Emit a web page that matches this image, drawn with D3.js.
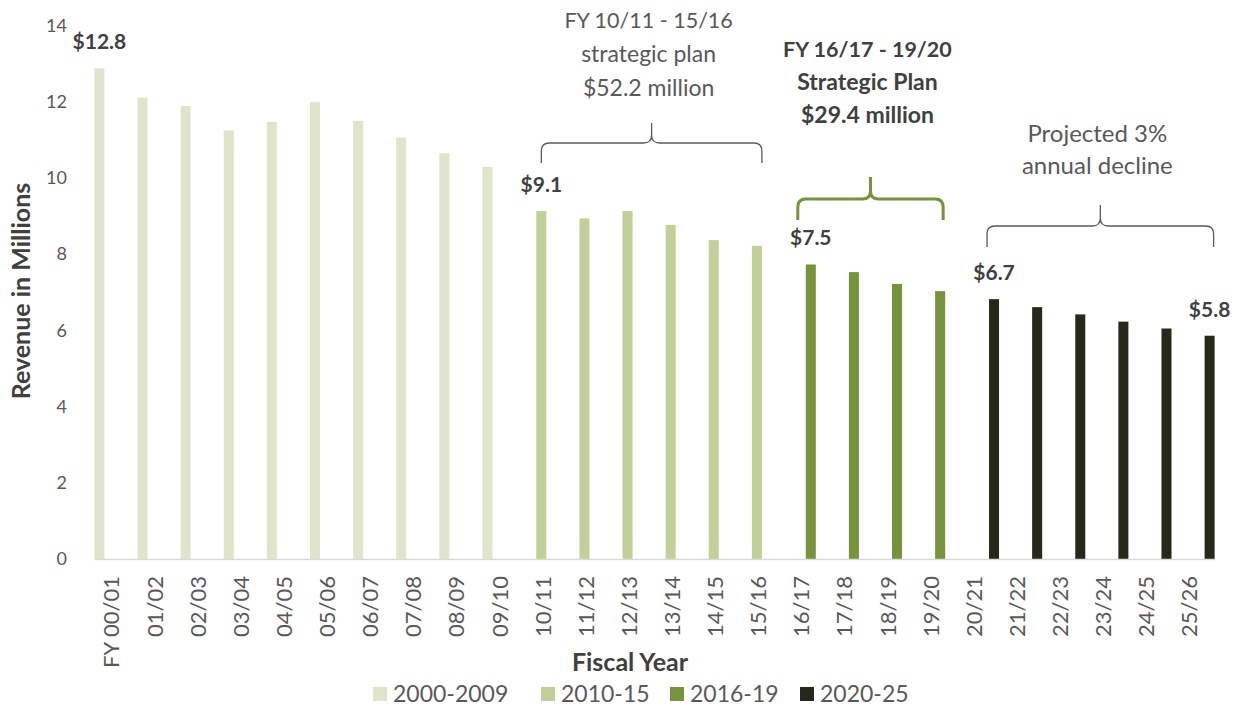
<!DOCTYPE html>
<html>
<head>
<meta charset="utf-8">
<script src="https://cdn.jsdelivr.net/npm/d3@7"></script>
<style>
  html, body { margin: 0; padding: 0; background: #fff; }
  svg { display: block; font-family: Lato, "Open Sans", sans-serif; }
</style>
</head>
<body>
<svg id="chart" width="1242" height="708"></svg>
<script>
// ---------------- DATA ----------------
const categories = ["FY 00/01","01/02","02/03","03/04","04/05","05/06","06/07","07/08","08/09","09/10",
  "10/11","11/12","12/13","13/14","14/15","15/16",
  "16/17","17/18","18/19","19/20",
  "20/21","21/22","22/23","23/24","24/25","25/26"];
const seriesNames = ["2000-2009","2010-15","2016-19","2020-25"];
const seriesColors = ["#dfe5ca","#c3cf99","#77933c","#26281a"];
const values2000s = [12.88,12.11,11.89,11.25,11.47,11.99,11.50,11.06,10.65,10.29];
const values2010s = [9.13,8.94,9.13,8.77,8.37,8.22];
const values2016s = [7.73,7.53,7.22,7.03];
const values2020s = [6.82,6.61,6.42,6.23,6.05,5.86];
const yTicks = [0,2,4,6,8,10,12,14];
const valueLabelCats = ["FY 00/01","10/11","16/17","20/21","25/26"];
const valueLabelTexts = ["$12.8","$9.1","$7.5","$6.7","$5.8"];
const braceFrom = ["10/11","16/17","20/21"];
const braceTo = ["15/16","19/20","25/26"];
const braceLines = [
  ["FY 10/11 - 15/16","strategic plan","$52.2 million"],
  ["FY 16/17 - 19/20","Strategic Plan","$29.4 million"],
  ["Projected 3%","annual decline"]
];
const axisTitleX = "Fiscal Year";
const axisTitleY = "Revenue in Millions";

// ---------------- BUILD TABLE ----------------
const seriesValues = [values2000s, values2010s, values2016s, values2020s];
const rows = [];
let ci = 0;
seriesValues.forEach((arr, si) => {
  arr.forEach(v => { rows.push({cat: categories[ci], series: seriesNames[si], value: v}); ci++; });
});

// ---------------- LAYOUT ----------------
const svg = d3.select("#chart");
const x = d3.scaleBand().domain(categories).range([94, 1215]).padding(0);
const xs = d3.scaleBand().domain(seriesNames).range([0, x.bandwidth()]).padding(0);
const y = d3.scaleLinear().domain([0, 14]).range([559, 25.6]);
const color = d3.scaleOrdinal().domain(seriesNames).range(seriesColors);
const barW = xs.bandwidth() * 0.93;
const barCenter = d => x(d.cat) + xs(d.series) + xs.bandwidth() / 2;
const rowByCat = new Map(rows.map(r => [r.cat, r]));

// bars
svg.append("g").selectAll("rect").data(rows).join("rect")
  .attr("x", d => barCenter(d) - barW / 2)
  .attr("y", d => y(d.value))
  .attr("width", barW)
  .attr("height", d => y(0) - y(d.value))
  .attr("fill", d => color(d.series));

// x axis
const xAxis = svg.append("g").attr("transform", `translate(0,${y(0)})`)
  .call(d3.axisBottom(x).tickSize(0).tickPadding(0));
xAxis.select(".domain").attr("stroke", "#d9d9d9").attr("stroke-width", 1.5);
xAxis.selectAll(".tick text")
  .attr("transform", "rotate(-90)")
  .attr("text-anchor", "end")
  .attr("x", -17)
  .attr("y", 0)
  .attr("dy", "0.36em")
  .attr("dx", 0)
  .attr("fill", "#595959")
  .style("font-family", "Lato, sans-serif")
  .style("font-size", "22px");
xAxis.selectAll(".tick").attr("transform", d => `translate(${x(d) + x.bandwidth()/2 - 4},0)`);

// y axis
const yAxis = svg.append("g").attr("transform", "translate(67,0)")
  .call(d3.axisLeft(y).tickValues(yTicks).tickSize(0).tickPadding(0).tickFormat(d3.format("d")));
yAxis.select(".domain").remove();
yAxis.selectAll(".tick text")
  .attr("fill", "#595959")
  .style("font-family", "Lato, sans-serif")
  .style("font-size", "18px");

// axis titles
svg.append("text")
  .attr("transform", `translate(30,291) rotate(-90)`)
  .attr("text-anchor", "middle")
  .attr("fill", "#404040")
  .style("font-weight", "bold")
  .style("font-size", "25px")
  .text(axisTitleY);
svg.append("text")
  .attr("x", 630).attr("y", 671)
  .attr("text-anchor", "middle")
  .attr("fill", "#404040")
  .style("font-weight", "bold")
  .style("font-size", "25px")
  .text(axisTitleX);

// value labels
valueLabelCats.forEach((c, i) => {
  const r = rowByCat.get(c);
  svg.append("text")
    .attr("x", barCenter(r))
    .attr("y", y(r.value) - 19)
    .attr("text-anchor", "middle")
    .attr("fill", "#404040")
    .style("font-weight", "bold")
    .style("font-size", "21px")
    .text(valueLabelTexts[i]);
});

// braces
const braceGeom = [
  {dl: 0, dr: 5, bottom: 163, mid: 143, tip: 123, stroke: "#595959", sw: 1.3, textY: 28, lh: 34, bold: false, fill: "#595959", fs: 23},
  {dl: -13, dr: 3, bottom: 220, mid: 199, tip: 177, stroke: "#77933c", sw: 3, textY: 57, lh: 33, bold: true, fill: "#404040", fs: 23},
  {dl: -7, dr: 4, bottom: 247, mid: 226, tip: 205, stroke: "#595959", sw: 1.3, textY: 142, lh: 32, bold: false, fill: "#595959", fs: 24}
];
braceFrom.forEach((f, i) => {
  const g = braceGeom[i];
  const L = barCenter(rowByCat.get(f)) + g.dl;
  const R = barCenter(rowByCat.get(braceTo[i])) + g.dr;
  const T = (L + R) / 2;
  const r = 8;
  const p = d3.path();
  p.moveTo(L, g.bottom);
  p.lineTo(L, g.mid + r);
  p.quadraticCurveTo(L, g.mid, L + r, g.mid);
  p.lineTo(T - r, g.mid);
  p.quadraticCurveTo(T, g.mid, T, g.mid - r);
  p.lineTo(T, g.tip);
  p.moveTo(T, g.mid - r);
  p.quadraticCurveTo(T, g.mid, T + r, g.mid);
  p.lineTo(R - r, g.mid);
  p.quadraticCurveTo(R, g.mid, R, g.mid + r);
  p.lineTo(R, g.bottom);
  svg.append("path").attr("d", p.toString())
    .attr("fill", "none").attr("stroke", g.stroke).attr("stroke-width", g.sw);
  braceLines[i].forEach((line, li) => {
    svg.append("text")
      .attr("x", T - 3)
      .attr("y", g.textY + li * g.lh)
      .attr("text-anchor", "middle")
      .attr("fill", g.fill)
      .style("font-weight", g.bold ? "bold" : "normal")
      .style("font-size", (li === 0 && i < 2 ? g.fs - 1.5 : g.fs) + "px")
      .text(line);
  });
});

// legend
const legendX = [373, 541, 670, 800];
const legend = svg.append("g");
seriesNames.forEach((s, i) => {
  legend.append("rect").attr("x", legendX[i]).attr("y", 687).attr("width", 14).attr("height", 14)
    .attr("fill", color(s));
  legend.append("text").attr("x", legendX[i] + 20).attr("y", 702)
    .attr("fill", "#595959").style("font-size", "23px").text(s);
});
</script>
</body>
</html>
